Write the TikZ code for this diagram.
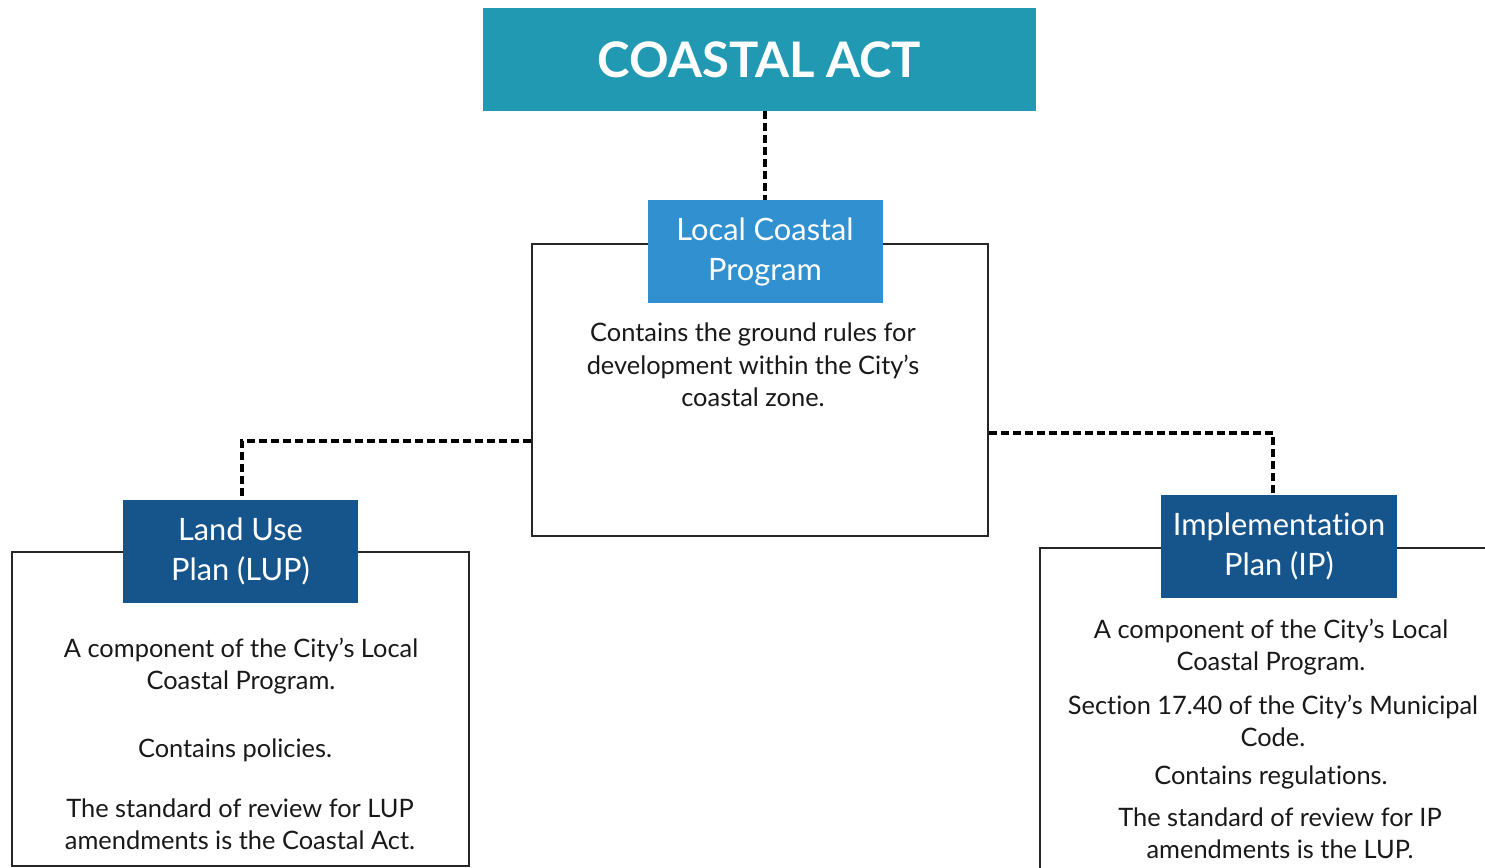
\documentclass[tikz,border=0pt]{standalone}
\usepackage{fontspec}
\setmainfont{Lato}[Ligatures={NoCommon,NoRare}]
\definecolor{cteal}{HTML}{2199B3}
\definecolor{cmid}{HTML}{3090D0}
\definecolor{cdark}{HTML}{16548C}
\begin{document}
\begin{tikzpicture}[x=0.5pt,y=-0.5pt,
  outline/.style={draw=black!85, line width=1pt, fill=white, inner sep=0},
  lab/.style={inner sep=0, text=white, align=center, minimum width=117.5pt, minimum height=51.5pt, font=\fontsize{15.4}{20}\selectfont},
  conn/.style={line width=1.8pt, dash pattern=on 4pt off 2pt},
  body/.style={align=center, inner sep=0, font=\fontsize{12.7}{16.25}\selectfont, text=black!90}]
\clip (0,0) rectangle (1485,868);
\fill[white] (0,0) rectangle (1485,868);
% outline boxes
\node[outline, minimum width=228pt, minimum height=146pt] (lcp) at (760,390) {};
\node[outline, minimum width=228.5pt, minimum height=157pt] (lup) at (240.5,709) {};
\node[outline, minimum width=230pt, minimum height=166pt] (ip) at (1270,714) {};
% header and labels
\node[fill=cteal, inner sep=0, minimum width=276.5pt, minimum height=51.5pt, text=white, font=\fontsize{24.5}{30}\selectfont\bfseries] (ca) at (759.5,59.5) {COASTAL ACT};
\node[lab, fill=cmid] (lcpl) at (765,251.5) {Local Coastal\\Program};
\node[lab, fill=cdark] (lupl) at (240.5,551.5) {Land Use\\Plan (LUP)};
\node[lab, fill=cdark, minimum width=118pt] (ipl) at (1279,546.5) {Implementation\\Plan (IP)};
% connectors
\draw[conn] (lcpl.north |- ca.south) -- (lcpl.north);
\draw[conn] ([yshift=-25.5pt]lcp.west) -| ([xshift=0.75pt]lupl.north);
\draw[conn] ([yshift=-21.5pt]lcp.east) -| ([xshift=-3pt]ipl.north);
% body texts
\node[body] (t1) at (753,365) {Contains the ground rules for\\development within the City’s\\coastal zone.};
\node[body] (t2) at (241,666) {A component of the City’s Local\\Coastal Program.};
\node[body] (t3) at (235,750) {Contains policies.};
\node[body] (t4) at (240,824) {The standard of review for LUP\\amendments is the Coastal Act.};
\node[body] (t5) at (1271,647) {A component of the City’s Local\\Coastal Program.};
\node[body] (t6) at (1273,721) {Section 17.40 of the City’s Municipal\\Code.};
\node[body] (t7) at (1271,777) {Contains regulations.};
\node[body] (t8) at (1280,833) {The standard of review for IP\\amendments is the LUP.};
\end{tikzpicture}
\end{document}
